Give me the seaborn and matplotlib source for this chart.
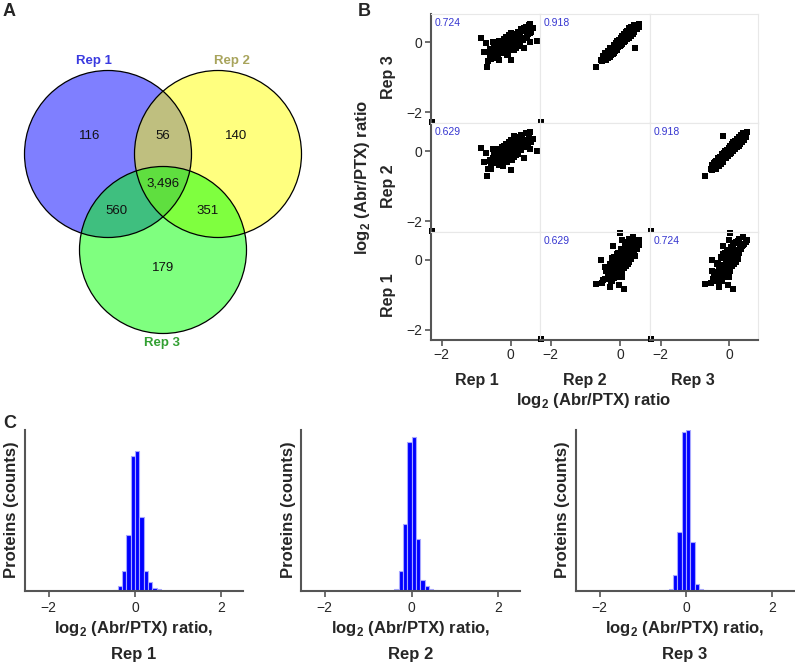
import numpy as np
import pandas as pd
import seaborn as sns
import matplotlib.pyplot as plt
from matplotlib.patches import Circle

sns.set_theme(style='white')
plt.rcParams['font.family'] = ['Liberation Sans', 'DejaVu Sans']
plt.rcParams['mathtext.fontset'] = 'custom'
plt.rcParams['mathtext.rm'] = 'Liberation Sans'
plt.rcParams['mathtext.bf'] = 'Liberation Sans:bold'

# ---- data ----
# Venn: protein counts per region
venn_sets = ['Rep 1', 'Rep 2', 'Rep 3']
venn_regions = ['1', '12', '2', '123', '13', '23', '3']
venn_counts = [116, 56, 140, 3496, 560, 351, 179]

# per-protein log2 ratios, read roughly off the scatter clouds
# (first 17 are the scattered outliers, then the dense core)
rep1 = [-0.70, -0.85, 0.77, 0.56, -0.72, -0.56, -0.66, 0.57, 0.10, -0.50, 0.40, -0.60, -2.28, 0.60, -0.78, 0.00, 0.65,
        -0.58, -0.33,
        -0.47, -0.21, -0.36,
        -0.61, -0.29, -0.11, -0.43,
        -0.52, -0.33, -0.08, -0.41, -0.17,
        -0.37, -0.26, 0.04, -0.14,
        -0.31, -0.23, 0.09, -0.49, -0.01,
        -0.27, -0.15, 0.16, -0.36, 0.04,
        -0.19, -0.09, 0.21, -0.29, 0.07,
        -0.14, 0.02, 0.27, -0.33, 0.11, -0.06,
        -0.17, 0.09, 0.19, -0.24, 0.31,
        -0.09, 0.13, 0.36, -0.19, 0.22,
        0.03, 0.11, 0.42, -0.13, 0.27,
        0.08, 0.26, 0.47, -0.06,
        0.16, 0.33, 0.51, 0.02,
        0.13, 0.39, 0.55,
        0.21, 0.46, 0.33,
        0.31, 0.52,
        0.44]
rep2 = [-0.70, 0.10, 0.00, 0.53, -0.05, -0.45, -0.52, 0.05, 0.43, 0.05, -0.20, -0.25, -2.28, 0.25, -0.30, -0.55, 0.35,
        -0.51, -0.40,
        -0.35, -0.43, -0.30,
        -0.27, -0.37, -0.31, -0.22,
        -0.19, -0.30, -0.24, -0.16, -0.29,
        -0.21, -0.17, -0.25, -0.13,
        -0.09, -0.19, -0.17, -0.12, -0.15,
        -0.06, -0.14, -0.11, -0.02, -0.12,
        -0.01, -0.09, -0.07, 0.01, -0.06,
        0.04, -0.04, 0.02, 0.06, -0.02, 0.00,
        0.09, 0.01, 0.07, 0.11, 0.03,
        0.14, 0.06, 0.12, 0.16, 0.08,
        0.19, 0.11, 0.13, 0.21, 0.14,
        0.25, 0.15, 0.22, 0.26,
        0.30, 0.20, 0.23, 0.31,
        0.35, 0.25, 0.29,
        0.40, 0.31, 0.37,
        0.47, 0.39,
        0.52]
rep3 = [-0.70, 0.11, 0.02, 0.52, -0.03, -0.47, -0.53, -0.01, -0.17, 0.00, -0.18, -0.20, -2.28, 0.28, -0.28, -0.50, 0.40,
        -0.39, -0.50,
        -0.44, -0.30, -0.41,
        -0.37, -0.24, -0.36, -0.33,
        -0.31, -0.17, -0.33, -0.25, -0.19,
        -0.27, -0.11, -0.22, -0.21,
        -0.21, -0.08, -0.23, -0.16, -0.09,
        -0.15, -0.03, -0.17, -0.10, -0.04,
        -0.12, 0.02, -0.12, -0.05, 0.01,
        -0.06, 0.07, -0.07, 0.04, 0.05, -0.03,
        -0.01, 0.12, 0.02, 0.04, 0.10,
        0.03, 0.18, 0.07, 0.09, 0.15,
        0.08, 0.23, 0.12, 0.14, 0.19,
        0.13, 0.28, 0.17, 0.20,
        0.18, 0.33, 0.22, 0.26,
        0.23, 0.39, 0.27,
        0.29, 0.43, 0.35,
        0.36, 0.49,
        0.42]

# pairwise correlations: (1,2), (1,3), (2,3)
pair_names = [('Rep 1', 'Rep 2'), ('Rep 1', 'Rep 3'), ('Rep 2', 'Rep 3')]
pair_r = [0.629, 0.724, 0.918]

# histograms: bins of 0.1 from -0.7 to 0.6
bin_edges = [-0.7, -0.6, -0.5, -0.4, -0.3, -0.2, -0.1, 0.0, 0.1, 0.2, 0.3, 0.4, 0.5, 0.6]
hist1 = [3, 3, 6, 45, 180, 507, 1212, 1257, 663, 180, 78, 30, 15]
hist2 = [0, 0, 3, 21, 180, 606, 1356, 1401, 471, 102, 45, 21, 9]
hist3 = [0, 0, 6, 21, 141, 531, 1446, 1461, 441, 66, 21, 12, 0]
hist_top = [1446, 1461, 1461]

# ---- figure ----
W, H = 795, 664
fig = plt.figure(figsize=(W / 100, H / 100), dpi=100)


def px_axes(l, t, r, b):
    return fig.add_axes([l / W, 1 - b / H, (r - l) / W, (b - t) / H])


def ftext(x, y, s, **kw):
    fig.text(x / W, 1 - y / H, s, **kw)


axis_col = '#555555'
log_label = r'log$_\mathbf{2}$ (Abr/PTX) ratio'

# ---- A: Venn ----
ax = px_axes(0, 20, 340, 360)
ax.set_xlim(0, 340)
ax.set_ylim(360, 20)
ax.axis('off')
circ = {'Rep 1': ((108, 154), 'blue'), 'Rep 2': ((218, 154), 'yellow'), 'Rep 3': ((163, 250), 'lime')}
for name in venn_sets:
    c, col = circ[name]
    ax.add_patch(Circle(c, 83.5, facecolor=col, alpha=0.5, edgecolor='none'))
for name in venn_sets:
    c, col = circ[name]
    ax.add_patch(Circle(c, 83.5, facecolor='none', edgecolor='black', lw=0.9))
region_xy = {'1': (90, 136), '12': (163, 136), '2': (236, 136), '123': (163, 184),
             '13': (116, 211), '23': (208, 211), '3': (163, 268)}
for reg, n in zip(venn_regions, venn_counts):
    ax.text(*region_xy[reg], f'{n:,}', ha='center', va='center', fontsize=9.5, color='#111111')
set_lab = {'Rep 1': ((94, 61), '#3a3ae0'), 'Rep 2': ((232, 61), '#a8a45c'), 'Rep 3': ((162, 343), '#33a033')}
for name in venn_sets:
    xy, col = set_lab[name]
    ax.text(*xy, name, ha='center', va='center', fontsize=9.5, fontweight='bold', color=col)

# ---- B: scatter matrix ----
df = pd.DataFrame({'Rep 1': rep1, 'Rep 2': rep2, 'Rep 3': rep3})
corr = {}
for (a, b), r in zip(pair_names, pair_r):
    corr[(a, b)] = r
    corr[(b, a)] = r

rows = ['Rep 3', 'Rep 2', 'Rep 1']
cols = ['Rep 1', 'Rep 2', 'Rep 3']
col_edges = [431, 540, 650, 758]
row_edges = [14, 123, 232, 340]
for i, yn in enumerate(rows):
    for j, xn in enumerate(cols):
        ax = px_axes(col_edges[j], row_edges[i], col_edges[j + 1], row_edges[i + 1])
        if xn != yn:
            sns.scatterplot(data=df, x=xn, y=yn, ax=ax, color='black', s=15,
                            linewidth=0, marker='s', clip_on=False)
            ax.text(0.03, 0.92, f'{corr[(xn, yn)]:.3f}', transform=ax.transAxes,
                    ha='left', va='center', fontsize=7.5, color='#3535d0')
        ax.set_xlim(-2.31, 0.85)
        ax.set_ylim(-2.3, 0.8)
        ax.set_xlabel('')
        ax.set_ylabel('')
        for sp in ax.spines.values():
            sp.set_color('#e8e8e8')
            sp.set_linewidth(0.8)
        if j == 0:
            ax.spines['left'].set_color(axis_col)
            ax.spines['left'].set_linewidth(1.5)
            ax.set_yticks([-2, 0])
        else:
            ax.set_yticks([])
        if i == 2:
            ax.spines['bottom'].set_color(axis_col)
            ax.spines['bottom'].set_linewidth(1.5)
            ax.set_xticks([-2, 0])
        else:
            ax.set_xticks([])
        ax.tick_params(direction='out', length=4, width=1.2, color=axis_col,
                       labelsize=10, pad=2, left=(j == 0), bottom=(i == 2))

for name, yc in zip(rows, [77, 186, 295]):
    ftext(388, yc, name, rotation=90, ha='center', va='center', fontsize=11.5, fontweight='bold')
for name, xc in zip(cols, [477, 585, 693]):
    ftext(xc, 380, name, ha='center', va='center', fontsize=11.5, fontweight='bold')
ftext(362, 177, log_label, rotation=90, ha='center', va='center', fontsize=12, fontweight='bold')
ftext(594, 401, log_label, ha='center', va='center', fontsize=12, fontweight='bold')

# ---- C: histograms ----
centers = [round((a + b) / 2, 2) for a, b in zip(bin_edges[:-1], bin_edges[1:])]
hist_x = [(25, 243), (301, 520), (576, 794)]
for k, counts in enumerate([hist1, hist2, hist3]):
    l, r = hist_x[k]
    ax = px_axes(l, 430, r, 591)
    hd = pd.DataFrame({'ratio': centers, 'n': counts})
    sns.histplot(data=hd, x='ratio', weights='n', bins=bin_edges, ax=ax, color='#0000ff',
                 edgecolor='#a8a8ff', linewidth=0.8, alpha=1)
    ax.set_xlim(-2.55, 2.5)
    ax.set_ylim(0, hist_top[k])
    ax.set_xticks([-2, 0, 2])
    ax.set_yticks([])
    ax.set_xlabel('')
    ax.set_ylabel('')
    for s in ['top', 'right']:
        ax.spines[s].set_visible(False)
    for s in ['left', 'bottom']:
        ax.spines[s].set_color(axis_col)
        ax.spines[s].set_linewidth(1.5)
    ax.tick_params(axis='x', direction='out', length=4, width=1.2, color=axis_col,
                   labelsize=10, pad=3, bottom=True)
    xc = (l + r) / 2
    ftext(xc, 628, log_label + ',', ha='center', va='center', fontsize=12, fontweight='bold')
    ftext(xc, 655, venn_sets[k], ha='center', va='center', fontsize=12, fontweight='bold')
    ftext(l - 13, 510, 'Proteins (counts)', rotation=90, ha='center', va='center',
          fontsize=12, fontweight='bold')

# panel letters
ftext(3, 12, 'A', ha='left', va='center', fontsize=13, fontweight='bold')
ftext(358, 12, 'B', ha='left', va='center', fontsize=13, fontweight='bold')
ftext(3, 424, 'C', ha='left', va='center', fontsize=13, fontweight='bold')

fig.savefig('out.png', dpi=100)
